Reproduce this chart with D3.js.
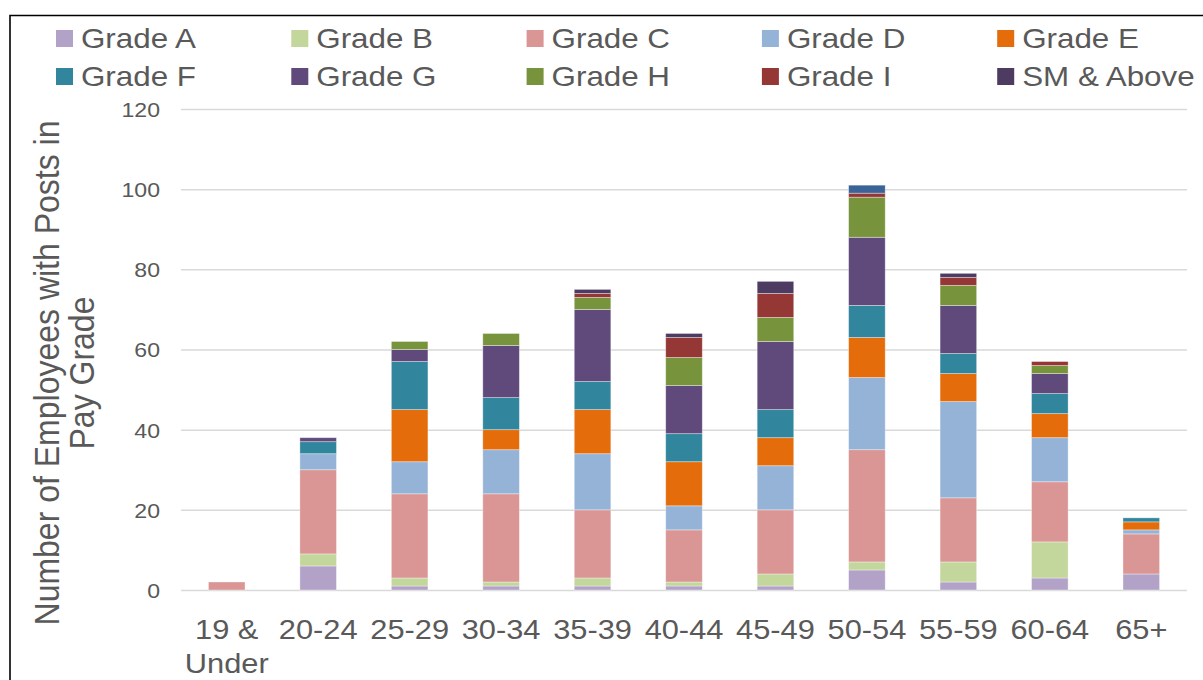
<!DOCTYPE html>
<html>
<head>
<meta charset="utf-8">
<script src="https://cdn.jsdelivr.net/npm/d3@7"></script>
<style>
  html, body { margin: 0; padding: 0; background: #ffffff; }
  svg { display: block; }
  text { font-family: "Liberation Sans", Arial, sans-serif; fill: #595959; }
</style>
</head>
<body>
<svg id="chart" width="1203" height="680"></svg>
<script>
// Age bands on the x axis
const categories = ["19 & Under", "20-24", "25-29", "30-34", "35-39", "40-44", "45-49", "50-54", "55-59", "60-64", "65+"];

// Headcount per pay grade in each age band
const gradeA   = [0, 6, 1, 1, 1, 1, 1, 5, 2, 3, 4];
const gradeB   = [0, 3, 2, 1, 2, 1, 3, 2, 5, 9, 0];
const gradeC   = [2, 21, 21, 22, 17, 13, 16, 28, 16, 15, 10];
const gradeD   = [0, 4, 8, 11, 14, 6, 11, 18, 24, 11, 1];
const gradeE   = [0, 0, 13, 5, 11, 11, 7, 10, 7, 6, 2];
const gradeF   = [0, 3, 12, 8, 7, 7, 7, 8, 5, 5, 1];
const gradeG   = [0, 1, 3, 13, 18, 12, 17, 17, 12, 5, 0];
const gradeH   = [0, 0, 2, 3, 3, 7, 6, 10, 5, 2, 0];
const gradeI   = [0, 0, 0, 0, 1, 5, 6, 1, 2, 1, 0];
const smAbove  = [0, 0, 0, 0, 1, 1, 3, 0, 1, 0, 0];
const otherPosts = [0, 0, 0, 0, 0, 0, 0, 2, 0, 0, 0];

const seriesNames  = ["Grade A", "Grade B", "Grade C", "Grade D", "Grade E", "Grade F", "Grade G", "Grade H", "Grade I", "SM & Above", "Other"];
const seriesValues = [gradeA, gradeB, gradeC, gradeD, gradeE, gradeF, gradeG, gradeH, gradeI, smAbove, otherPosts];
const seriesColors = ["#b3a2c7", "#c3d69b", "#d99694", "#95b3d7", "#e46c0a", "#31859c", "#604a7b", "#77933c", "#953735", "#4d3b62", "#3b6397"];
const legendNames  = seriesNames.slice(0, 10);

const yTicks = [0, 20, 40, 60, 80, 100, 120];

// Layout
const plotLeft = 181, plotRight = 1187, plotTop = 109, plotBottom = 590;
const SX = 1.1; // horizontal text stretch

const svg = d3.select("#chart");

// Outer frame (left and top edges)
svg.append("path")
  .attr("d", "M10,700 L10,15.5 L1210,15.5")
  .attr("fill", "none")
  .attr("stroke", "#000")
  .attr("stroke-width", 1.6);

const x = d3.scaleBand()
  .domain(categories)
  .range([plotLeft, plotRight])
  .paddingInner(0.6)
  .paddingOuter(0.3);

const y = d3.scaleLinear()
  .domain([0, 120])
  .range([plotBottom, plotTop]);

// Gridlines
const grid = svg.append("g")
  .attr("transform", `translate(${plotLeft},0)`)
  .call(d3.axisLeft(y).tickValues(yTicks).tickSize(-(plotRight - plotLeft)).tickFormat(""));
grid.select(".domain").remove();
grid.selectAll(".tick line").attr("stroke", "#d9d9d9").attr("stroke-width", 1.5);

// Stacked bars
const rows = categories.map((c, i) => {
  const r = { category: c };
  seriesNames.forEach((n, k) => { r[n] = seriesValues[k][i]; });
  return r;
});
const stacked = d3.stack().keys(seriesNames)(rows);

svg.append("g")
  .selectAll("g")
  .data(stacked)
  .join("g")
    .attr("fill", (d, i) => seriesColors[i])
  .selectAll("rect")
  .data(d => d.filter(s => s[1] - s[0] > 0))
  .join("rect")
    .attr("x", d => x(d.data.category))
    .attr("width", x.bandwidth())
    .attr("y", d => y(d[1]))
    .attr("height", d => y(d[0]) - y(d[1]))
    .attr("stroke", "rgba(255,255,255,0.45)")
    .attr("stroke-width", 0.8);

// Y axis labels
const yAxis = svg.append("g")
  .attr("transform", `translate(${plotLeft},0)`)
  .call(d3.axisLeft(y).tickValues(yTicks).tickSize(0).tickPadding(0));
yAxis.select(".domain").remove();
yAxis.selectAll(".tick text")
  .attr("x", -21 / SX)
  .attr("dy", "0.35em")
  .attr("transform", `scale(${SX},1)`)
  .style("font-size", "21px")
  .style("fill", "#595959")
  .style("font-family", "'Liberation Sans', Arial, sans-serif");

// X axis labels (multi-line)
const xAxis = svg.append("g")
  .attr("transform", `translate(0,${plotBottom})`)
  .call(d3.axisBottom(x).tickSize(0).tickPadding(0));
xAxis.select(".domain").remove();
xAxis.selectAll(".tick text")
  .style("font-size", "28px")
  .style("fill", "#595959")
  .style("font-family", "'Liberation Sans', Arial, sans-serif")
  .attr("transform", `scale(${SX},1)`)
  .attr("y", 49)
  .attr("dy", 0)
  .each(function(d) {
    const t = d3.select(this);
    const parts = d === "19 & Under" ? ["19 &", "Under"] : [d];
    t.text(null);
    parts.forEach((p, i) => {
      t.append("tspan").attr("x", 0).attr("y", 49 + i * 34).text(p);
    });
  });

// Y axis title
const title = svg.append("text")
  .attr("transform", `translate(0,373) scale(${SX},1) rotate(-90)`)
  .attr("text-anchor", "middle")
  .style("font-size", "32px");
title.append("tspan").attr("x", 0).attr("y", 59 / SX).text("Number of Employees with Posts in");
title.append("tspan").attr("x", 0).attr("y", 94 / SX).text("Pay Grade");

// Legend: two rows of five
const legend = svg.append("g");
const legendItem = legend.selectAll("g")
  .data(legendNames)
  .join("g")
    .attr("transform", (d, i) => `translate(${56 + (i % 5) * 235.3},${30 + Math.floor(i / 5) * 38})`);
legendItem.append("rect")
  .attr("width", 17)
  .attr("height", 17)
  .attr("fill", (d, i) => seriesColors[i]);
legendItem.append("text")
  .attr("transform", `translate(25,17.5) scale(${SX},1)`)
  .style("font-size", "28.5px")
  .text(d => d);
</script>
</body>
</html>
